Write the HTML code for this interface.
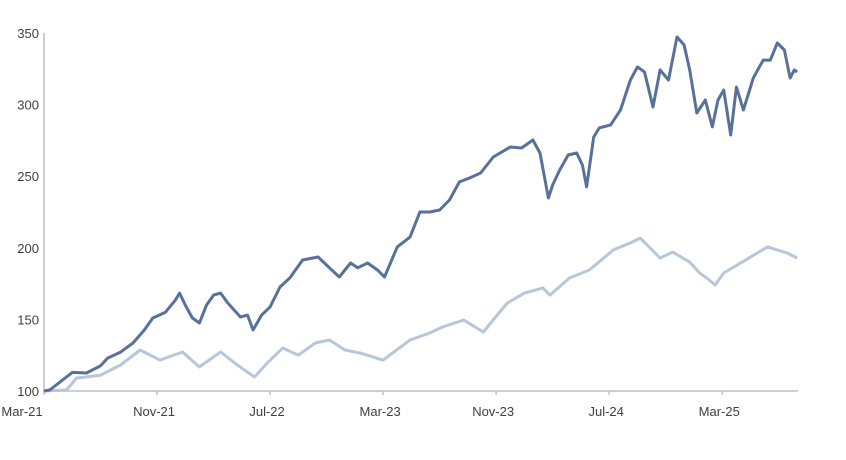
<!DOCTYPE html>
<html><head><meta charset="utf-8"><style>
html,body{margin:0;padding:0;background:#fff;}
svg{display:block;font-family:"Liberation Sans",sans-serif;}
</style></head><body>
<svg id="chart" width="846" height="460"></svg>
<script>
const yTicks=[100,150,200,250,300,350];
const xTickLabels=["Mar-21","Nov-21","Jul-22","Mar-23","Nov-23","Jul-24","Mar-25"];
const xTickMonths=[0,8,16,24,32,40,48];
const darkMonths=[0,0.4,1.1,2.0,3.0,4.0,4.5,5.4,6.3,7.1,7.7,8.6,9.3,9.6,10.0,10.5,11.0,11.5,12.0,12.5,13.0,13.9,14.4,14.8,15.4,16.0,16.7,17.4,18.3,19.4,20.2,20.9,21.7,22.2,22.9,23.6,24.1,25.0,25.9,26.6,27.3,28.0,28.7,29.4,30.1,30.9,31.8,33.0,33.8,34.6,35.1,35.7,36.0,36.5,37.1,37.7,38.1,38.4,38.9,39.3,40.1,40.8,41.5,42.0,42.5,43.1,43.6,44.2,44.8,45.3,45.7,46.2,46.8,47.3,47.7,48.1,48.6,49.0,49.5,50.2,50.9,51.4,51.9,52.4,52.8,53.1,53.3];
const darkValues=[100,100.7,106,113,112.6,117.5,123,127,133.5,142.6,151,155,163.5,168.4,160,151,147.5,160,167,168.4,161.5,151.7,153,142.6,153,158.7,172.6,179,191.5,193.6,186,179.6,189.4,186,189.4,184.5,179.6,200.6,207.5,225,225,226.4,233.4,246,248.7,252.2,263.4,270.4,269.7,275.3,266.2,234.8,243.9,254.3,264.8,266.2,257.8,242.5,277.4,283.7,285.8,296.2,317.2,326.3,322.8,298.3,324.2,317.2,347.2,341.6,324.2,294.1,303.2,284.4,303.2,310.2,278.8,312.3,296.2,318.6,331.1,331.1,343,338.1,318.6,324.2,322.8];
const lightMonths=[0,1.6,2.3,4.0,5.4,6.8,8.2,9.8,11.0,12.5,13.7,14.9,15.8,16.9,18.0,19.2,20.2,21.3,22.4,24.0,25.9,27.3,28.2,29.7,31.1,31.9,32.8,34.0,35.3,35.8,37.2,38.6,40.3,41.5,42.2,43.6,44.5,45.7,46.4,46.9,47.5,48.1,49.3,51.2,52.6,53.3];
const lightValues=[100,100.7,109,111,118,128.6,121.6,127.2,116.8,127.2,118,109.8,119.6,130,125,133.5,135.6,128.6,126.5,121.6,135.6,140.5,144.7,149.6,141.2,151,161.5,168.4,172,167,179,184.5,198.5,203.4,206.8,192.9,197,190,182.4,178.9,174,182.4,189.4,200.6,196.4,192.9];

const NS="http://www.w3.org/2000/svg";
const svg=document.getElementById('chart');
const x0=44,pxPerMonth=14.13,xEnd=798;
const yBase=391,pxPerUnit=1.432;
const X=m=>x0+m*pxPerMonth;
const Y=v=>yBase-(v-100)*pxPerUnit;
function mk(tag,attrs){const e=document.createElementNS(NS,tag);for(const k in attrs)e.setAttribute(k,attrs[k]);svg.appendChild(e);return e;}

const yAxis=mk('line',{x1:x0,y1:Y(350),x2:x0,y2:yBase,stroke:'#bfbfbf','stroke-width':1.5});


const xAxis=mk('line',{x1:x0,y1:yBase,x2:xEnd,y2:yBase,stroke:'#bfbfbf','stroke-width':1.5});



yTicks.forEach(v=>{
  const t=mk('text',{x:39,y:Y(v)+5,'text-anchor':'end','font-size':13,fill:'#404040'});
  t.textContent=v;
  
  
});
xTickMonths.forEach((m,i)=>{
  const tk=mk('line',{x1:X(m),y1:yBase,x2:X(m),y2:yBase+4,stroke:'#bfbfbf','stroke-width':1.5});
  
  
  const t=mk('text',{x:i===0?22:X(m)-3,y:yBase+25,'text-anchor':'middle','font-size':13,fill:'#404040'});
  t.textContent=xTickLabels[i];
  
  
});
function pathOf(ms,vs){return ms.map((m,i)=>(i?'L':'M')+X(m).toFixed(1)+','+Y(vs[i]).toFixed(1)).join('');}
const light=mk('path',{d:pathOf(lightMonths,lightValues),fill:'none',stroke:'#b8c6d9','stroke-width':3,'stroke-linejoin':'round'});


const dark=mk('path',{d:pathOf(darkMonths,darkValues),fill:'none',stroke:'#58719a','stroke-width':3,'stroke-linejoin':'round'});


</script>
</body></html>
